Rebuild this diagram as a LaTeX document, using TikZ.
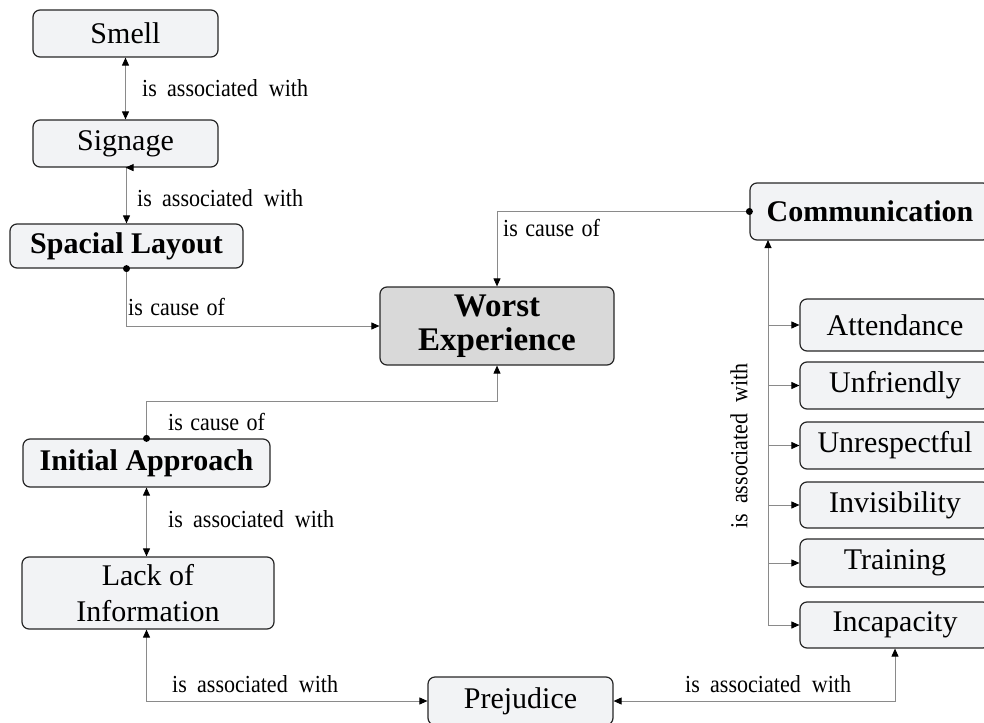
\documentclass[tikz,border=0pt]{standalone}
\usepackage{fontspec}
\setmainfont{Liberation Serif}
\newfontfamily\lblfont[FakeStretch=0.9]{Liberation Serif}
\usetikzlibrary{arrows.meta}
\definecolor{boxfill}{HTML}{F2F3F5}
\definecolor{worstfill}{HTML}{D9D9D9}
\definecolor{linegray}{HTML}{8A8A8A}
\newcommand\assocw{is\hspace{0.42em}associated\hspace{0.45em}with}
\newcommand\causeof{is\hspace{0.3em}cause\hspace{0.3em}of}
\begin{document}
\begin{tikzpicture}[x=1pt,y=-1pt,
  >={Triangle[length=8pt,width=7pt,black]},
  box/.style={draw=black!85, line width=1.2pt, rounded corners=7pt, fill=boxfill,
    inner sep=0pt, font=\fontsize{30}{36}\selectfont, align=center},
  bbox/.style={box, font=\fontsize{30}{36}\selectfont\bfseries},
  conn/.style={draw=linegray, line width=0.9pt},
  lbl/.style={font=\lblfont\fontsize{24.5}{28}\selectfont, anchor=west, inner sep=0pt},
  dot/.style={fill=black}
]
\useasboundingbox (0,0) rectangle (984,722);

% left column
\node[box, minimum width=185pt, minimum height=47pt] (smell) at (125.5,33.5) {Smell};
\node[box, minimum width=185pt, minimum height=47pt] (signage) at (125.5,143.5) {Signage};
\node[bbox, minimum width=233pt, minimum height=44pt] (spacial) at (126.5,246) {Spacial Layout};
\node[bbox, minimum width=247pt, minimum height=48pt] (init) at (146.5,463) {Initial Approach};
\node[box, minimum width=252pt, minimum height=72pt] (lack) at (148,593) {Lack of\\Information};
\node[box, minimum width=185pt, minimum height=48pt] (prej) at (520.5,701) {Prejudice};

% centre
\node[box, fill=worstfill, minimum width=234pt, minimum height=78pt,
  font=\fontsize{33}{34}\selectfont\bfseries] (worst) at (497,326) {Worst\\Experience};

% right column
\node[bbox, minimum width=240pt, minimum height=57pt] (comm) at (870,211.5) {Communication};
\node[box, minimum width=190pt, minimum height=52pt] (att) at (895,325) {Attendance};
\node[box, minimum width=190pt, minimum height=47pt] (unf) at (895,385.5) {Unfriendly};
\node[box, minimum width=190pt, minimum height=47pt] (unr) at (895,445.5) {Unrespectful};
\node[box, minimum width=190pt, minimum height=46pt] (inv) at (895,505) {Invisibility};
\node[box, minimum width=190pt, minimum height=48pt] (tra) at (895,563) {Training};
\node[box, minimum width=190pt, minimum height=46pt] (inc) at (895,625) {Incapacity};

% connectors
\draw[conn,<->] (smell.south) -- (signage.north);
\node[lbl] (l1) at (142,88) {\assocw};

\draw[conn,<->] (signage.south) -- (spacial.south |- signage.south) -- (spacial.north);
\node[lbl] (l2) at (137,198) {\assocw};

\draw[conn,->] (spacial.south) |- (worst.west);
\fill[dot] (spacial.south) circle (3.5pt);
\node[lbl] (l3) at (128,307) {\causeof};

\draw[conn,->] (comm.west) -| (worst.north);
\fill[dot] (comm.west) circle (3.5pt);
\node[lbl] (l4) at (503,228) {\causeof};

\draw[conn,->] (init.north) -- ++(0,-37) -| (worst.south);
\fill[dot] (init.north) circle (3.5pt);
\node[lbl] (l5) at (168,422) {\causeof};

\draw[conn,<->] (init.south) -- (init.south |- lack.north);
\node[lbl] (l6) at (168,519) {\assocw};

\draw[conn,<->] (lack.south -| init.south) |- (prej.west);
\node[lbl] (l7) at (172,684) {\assocw};

\draw[conn,<->] (prej.east) -| (inc.south);
\node[lbl] (l8) at (685,684) {\assocw};

% trunk to communication
\coordinate (tb) at (768,625);
\coordinate (tt) at (768,240);
\draw[conn,->] (tb) -- (tt);
\foreach \n in {att,unf,unr,inv,tra,inc}{
  \draw[conn,->] (\n.west -| tb) -- (\n.west);
}
\node[lbl, anchor=center, rotate=90] (l9) at (739,446) {\assocw};
\end{tikzpicture}
\end{document}
